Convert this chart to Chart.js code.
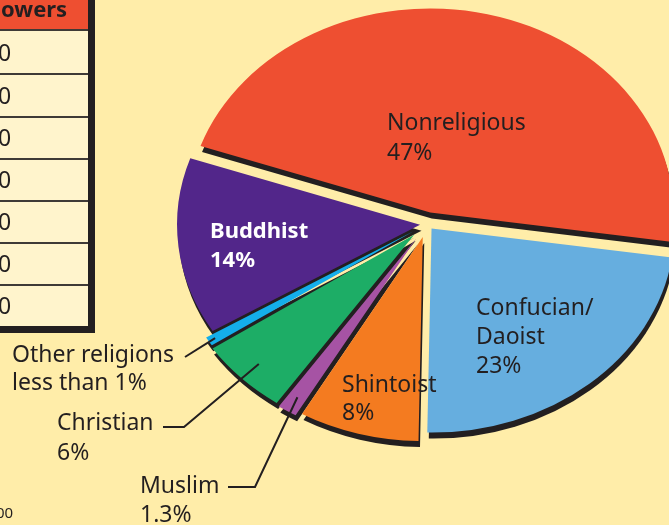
<!DOCTYPE html>
<html>
<head>
<meta charset="utf-8">
<script src="https://cdn.jsdelivr.net/npm/chart.js@4.4.1/dist/chart.umd.min.js"></script>
<style>
  html, body { margin: 0; padding: 0; background: #FFEDA9; overflow: hidden; width: 669px; height: 525px; }
  #wrap { position: relative; width: 669px; height: 525px; overflow: hidden; font-family: "Noto Sans", sans-serif; color: #231F20; }
  #c { position: absolute; left: 0; top: 0; }
  .ln { position: absolute; white-space: nowrap; }
  .cell { position: absolute; left: 0; width: 88px; background: #FFF4CC; }
  .sep { position: absolute; left: 0; width: 88px; height: 2px; background: #3F3A36; }
</style>
</head>
<body>
<div id="wrap">
  <canvas id="c" width="854" height="525"></canvas>
</div>
<script>
// ---------------- data ----------------
const categories = ['Nonreligious', 'Confucian/Daoist', 'Shintoist', 'Muslim', 'Christian', 'Other religions', 'Buddhist'];
const values = [47, 23, 8, 1.3, 6, 0.7, 14];
const percentText = ['47%', '23%', '8%', '1.3%', '6%', 'less than 1%', '14%'];
const tableHeader = 'owers';
const tableCells = ['0', '0', '0', '0', '0', '0', '0'];
const footnote = '00';

// ---------------- styles ----------------
const COLORS = ['#EE4F31', '#66AEDF', '#F47B20', '#A653A4', '#1DAD66', '#14AEEA', '#52268A'];
const SHADOW = '#231F20';
const K = 0.84;                         // vertical squash of the pie (ellipse)
const EXPLODE = [14, 7, 16, 20, 18, 16, 7];
const SHADOW_DX = 1.5, SHADOW_DY = 6;

const LABELS = [
  { i: 0, x: 387, base: 130, lh: 30 },
  { i: 1, x: 476, base: 315, lh: 29 },
  { i: 2, x: 342, base: 392, lh: 28 },
  { i: 3, x: 140, base: 493, lh: 29 },
  { i: 4, x: 57,  base: 430, lh: 30 },
  { i: 5, x: 12,  base: 362, lh: 28 },
  { i: 6, x: 210, base: 238, lh: 29, bold: true, color: '#FFFFFF', size: 22 }
];
// leader lines: from label side points to a point inside the slice
const LEADERS = [
  { i: 5, f: 0.97, pts: [[185, 357]] },
  { i: 4, f: 0.90, pts: [[163, 427], [184, 427]] },
  { i: 3, f: 0.92, pts: [[228, 487], [255, 487]] }
];

const wrap = document.getElementById('wrap');

function addLine(text, x, base, size, bold, color) {
  const d = document.createElement('div');
  d.className = 'ln';
  d.textContent = text;
  d.style.fontSize = size + 'px';
  d.style.lineHeight = size + 'px';
  d.style.left = x + 'px';
  d.style.top = (base - 0.888 * size) + 'px';
  if (bold) d.style.fontWeight = '700';
  if (color) d.style.color = color;
  wrap.appendChild(d);
}

// ---- partial table at the left ----
(function buildTable() {
  const head = document.createElement('div');
  head.style.cssText = 'position:absolute;left:0;top:0;width:88px;height:30px;background:#EE4F31;';
  wrap.appendChild(head);
  addLine(tableHeader, 1, 17, 22, true);
  const tops = [31, 74, 117, 159, 201, 243, 285, 326];
  tableCells.forEach((t, r) => {
    const c = document.createElement('div');
    c.className = 'cell';
    c.style.top = tops[r] + 'px';
    c.style.height = (tops[r + 1] - tops[r]) + 'px';
    wrap.appendChild(c);
    if (r > 0) {
      const s = document.createElement('div');
      s.className = 'sep';
      s.style.top = (tops[r] - 1) + 'px';
      wrap.appendChild(s);
    }
    addLine(t, -2, (tops[r] + tops[r + 1]) / 2 + 8.5, 23, false);
  });
  const hl = document.createElement('div');
  hl.style.cssText = 'position:absolute;left:0;top:29px;width:88px;height:2px;background:#3F3A36;';
  wrap.appendChild(hl);
  const rb = document.createElement('div');
  rb.style.cssText = 'position:absolute;left:88px;top:0;width:7px;height:333px;background:#231F20;';
  wrap.appendChild(rb);
  const bb = document.createElement('div');
  bb.style.cssText = 'position:absolute;left:0;top:326px;width:95px;height:7px;background:#231F20;';
  wrap.appendChild(bb);
  addLine(footnote, -4, 518, 15, false);
})();

// ---- slice labels ----
LABELS.forEach(l => {
  const name = categories[l.i];
  const nameLines = name.indexOf('/') >= 0 ? [name.slice(0, name.indexOf('/') + 1), name.slice(name.indexOf('/') + 1)] : [name];
  const lines = nameLines.concat([percentText[l.i]]);
  lines.forEach((t, k) => addLine(t, l.x, l.base + k * l.lh, l.size || 23, l.bold, l.color));
});

// ---------------- chart ----------------
const ArcElement = Chart.ArcElement;

function midAngle(arc) { return (arc.startAngle + arc.endAngle) / 2; }

const pie3d = {
  id: 'pie3d',
  beforeDatasetsDraw(chart) {
    const ctx = chart.ctx;
    const meta = chart.getDatasetMeta(0);
    const cx = meta.data[0].x, cy = meta.data[0].y;
    // explode each slice when the library draws it
    meta.data.forEach((arc, i) => {
      if (!arc.$exploded) {
        arc.$exploded = true;
        arc.draw = function (c) {
          const m = midAngle(this);
          c.save();
          c.translate(Math.cos(m) * EXPLODE[i], Math.sin(m) * EXPLODE[i]);
          ArcElement.prototype.draw.call(this, c);
          c.restore();
        };
      }
    });
    ctx.save();
    ctx.translate(cx, cy); ctx.scale(1, K); ctx.translate(-cx, -cy);
    // dark depth under every slice
    meta.data.forEach((arc, i) => {
      const m = midAngle(arc);
      const s = Object.create(arc);
      s.options = Object.assign({}, arc.options, { backgroundColor: SHADOW, borderColor: SHADOW, borderWidth: 0 });
      ctx.save();
      ctx.translate(Math.cos(m) * EXPLODE[i] + SHADOW_DX, Math.sin(m) * EXPLODE[i] + SHADOW_DY / K);
      ArcElement.prototype.draw.call(s, ctx);
      ctx.restore();
    });
  },
  afterDatasetsDraw(chart) {
    chart.ctx.restore();
  },
  afterDraw(chart) {
    const ctx = chart.ctx;
    const meta = chart.getDatasetMeta(0);
    ctx.save();
    ctx.strokeStyle = SHADOW;
    ctx.lineWidth = 2;
    LEADERS.forEach(L => {
      const arc = meta.data[L.i];
      const m = midAngle(arc);
      const r = EXPLODE[L.i] + L.f * arc.outerRadius;
      const tx = arc.x + Math.cos(m) * r;
      const ty = arc.y + Math.sin(m) * r * K;
      ctx.beginPath();
      ctx.moveTo(L.pts[0][0], L.pts[0][1]);
      for (let k = 1; k < L.pts.length; k++) ctx.lineTo(L.pts[k][0], L.pts[k][1]);
      ctx.lineTo(tx, ty);
      ctx.stroke();
    });
    ctx.restore();
  }
};

new Chart(document.getElementById('c'), {
  type: 'pie',
  data: {
    labels: categories,
    datasets: [{
      data: values,
      backgroundColor: COLORS,
      borderWidth: 0,
      offset: 0,
      clip: false
    }]
  },
  options: {
    responsive: false,
    animation: false,
    events: [],
    rotation: -71,
    radius: 243,
    layout: { padding: { left: 0, right: 0, top: 0, bottom: 77 } },
    plugins: { legend: { display: false }, tooltip: { enabled: false } }
  },
  plugins: [pie3d]
});
</script>
</body>
</html>
